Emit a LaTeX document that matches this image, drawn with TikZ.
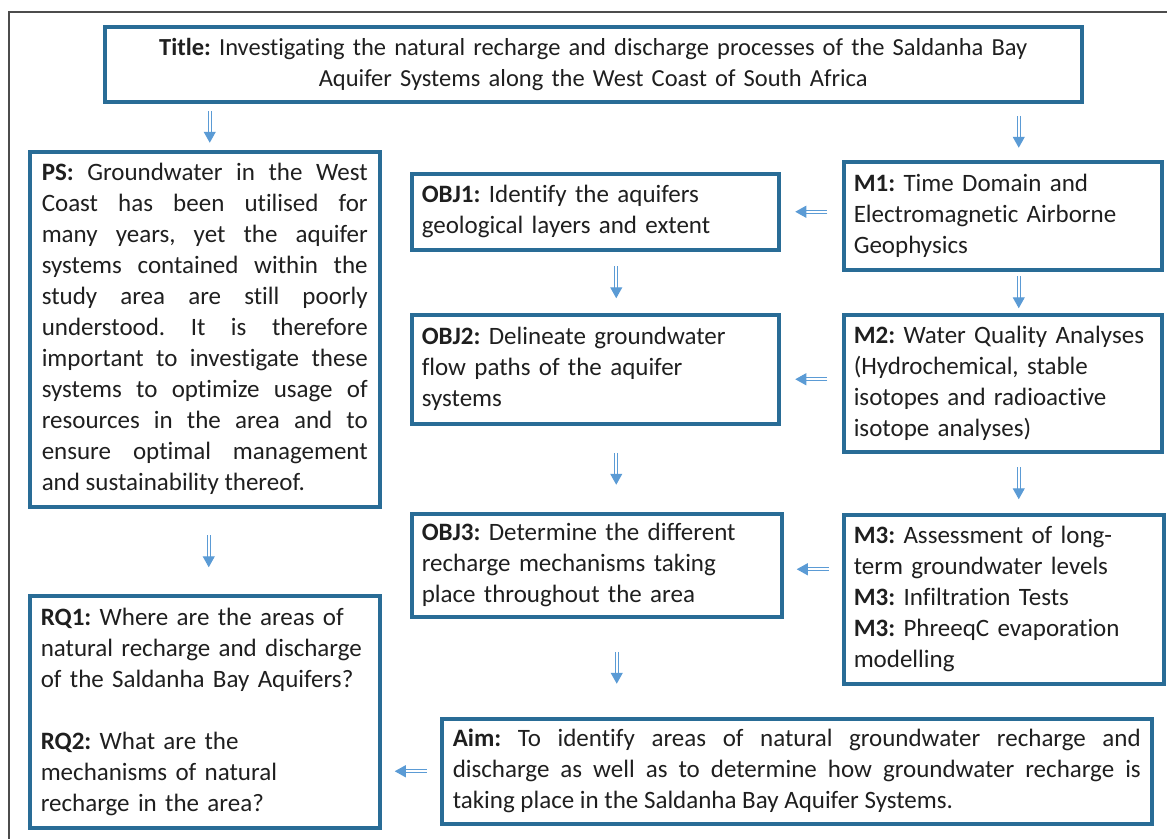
\documentclass[tikz,border=0pt]{standalone}
\usepackage{fontspec}
\setmainfont{Carlito}[Ligatures={TeX,NoCommon}]
\usetikzlibrary{arrows.meta,calc}
\definecolor{boxblue}{RGB}{41,108,150}
\definecolor{arrowblue}{RGB}{91,155,213}
\frenchspacing
\hyphenpenalty=10000
\exhyphenpenalty=10000

\begin{document}
\begin{tikzpicture}[x=1pt,y=-1pt,
    box/.style={draw=boxblue,line width=3.5pt,anchor=north west,inner xsep=10pt,inner ysep=2pt,
      font=\fontsize{25}{31}\selectfont,text=black!88},
    flow/.style={draw=arrowblue,double=white,double distance=2pt,line width=1.1pt,
      -{Triangle[width=12pt,length=11pt]}}]
  \useasboundingbox (0,0) rectangle (1167,839);

% frame
  \draw[black!70,line width=1.2pt] (1167,12) -- (9,12) -- (9,839);

% title
  \node[box,minimum width=977pt,minimum height=75pt,text width=950pt,align=center,
        font=\fontsize{24.5}{31}\selectfont] (title) at (103,25)
    {\textbf{Title:} Investigating the natural recharge and discharge processes of the Saldanha Bay\\
     Aquifer Systems along the West Coast of South Africa};

% left column
  \node[box,minimum width=350pt,minimum height=355pt,text width=326pt,align=justify] (ps) at (28,150)
    {\textbf{PS:} Groundwater in the West\linebreak
     Coast has been utilised for\linebreak
     many years, yet the aquifer\linebreak
     systems contained within the\linebreak
     study area are still poorly\linebreak
     understood. It is therefore\linebreak
     important to investigate these\linebreak
     systems to optimize usage of\linebreak
     resources in the area and to\linebreak
     ensure optimal management\linebreak
     and sustainability thereof.};
  \node[box,minimum width=350pt,minimum height=232pt,text width=328pt,align=left] (rq) at (28,594)
    {\textbf{RQ1:} Where are the areas of\\
     natural recharge and discharge\\
     of the Saldanha Bay Aquifers?\\[31pt]
     \textbf{RQ2:} What are the\\
     mechanisms of natural\\
     recharge in the area?};

% objectives
  \node[box,minimum width=367pt,minimum height=76pt,text width=347pt,align=left] (obj1) at (410,172)
    {\textbf{OBJ1:} Identify the aquifers\\ geological layers and extent};
  \node[box,minimum width=367pt,minimum height=109pt,text width=347pt,align=left] (obj2) at (410,313)
    {\textbf{OBJ2:} Delineate groundwater\\ flow paths of the aquifer\\ systems};
  \node[box,minimum width=370pt,minimum height=103pt,text width=350pt,align=left] (obj3) at (410,512)
    {\textbf{OBJ3:} Determine the different\\ recharge mechanisms taking\\ place throughout the area};

% methods
  \node[box,minimum width=318pt,minimum height=108pt,text width=298pt,align=left] (m1) at (842,160)
    {\textbf{M1:} Time Domain and\\ Electromagnetic Airborne\\ Geophysics};
  \node[box,minimum width=318pt,minimum height=137pt,text width=298pt,align=left] (m2) at (842,313)
    {\textbf{M2:} Water Quality Analyses\\ (Hydrochemical, stable\\ isotopes and radioactive\\ isotope analyses)};
  \node[box,minimum width=320pt,minimum height=169pt,text width=300pt,align=left] (m3) at (842,513)
    {\textbf{M3:} Assessment of long-\\ term groundwater levels\\ \textbf{M3:} Infiltration Tests\\
     \textbf{M3:} PhreeqC evaporation\\ modelling};

% aim
  \node[box,minimum width=710pt,minimum height=105pt,text width=688pt,align=justify] (aim) at (440,717)
    {\textbf{Aim:} To identify areas of natural groundwater recharge and\linebreak
     discharge as well as to determine how groundwater recharge is\linebreak
     taking place in the Saldanha Bay Aquifer Systems.};

% arrows from the title
  \draw[flow] ($(title.south -| ps.north)!.5!(ps.north)+(5,-16)$) -- ($(title.south -| ps.north)!.5!(ps.north)+(5,16)$);
  \draw[flow] ($(title.south -| m1.north)!.5!(m1.north)+(16,-16)$) -- ($(title.south -| m1.north)!.5!(m1.north)+(16,16)$);

% down arrows
  \foreach \a/\b/\dx in {ps/rq/4, obj1/obj2/21, obj2/obj3/21, obj3/aim/20, m1/m2/16, m2/m3/16} {
    \draw[flow] ($(\a.south)!.5!(\a.south |- \b.north)+(\dx,-16)$) -- ($(\a.south)!.5!(\a.south |- \b.north)+(\dx,16)$);
  }

% left arrows
  \foreach \a/\b/\dy in {m1/obj1/0, m2/obj2/10, m3/obj3/4} {
    \draw[flow] ($(\a.west |- \b.east)!.5!(\b.east)+(16,\dy)$) -- ($(\a.west |- \b.east)!.5!(\b.east)+(-16,\dy)$);
  }
  \draw[flow] ($(aim.west)!.5!(rq.east |- aim.west)+(16,0)$) -- ($(aim.west)!.5!(rq.east |- aim.west)+(-16,0)$);

\end{tikzpicture}
\end{document}
